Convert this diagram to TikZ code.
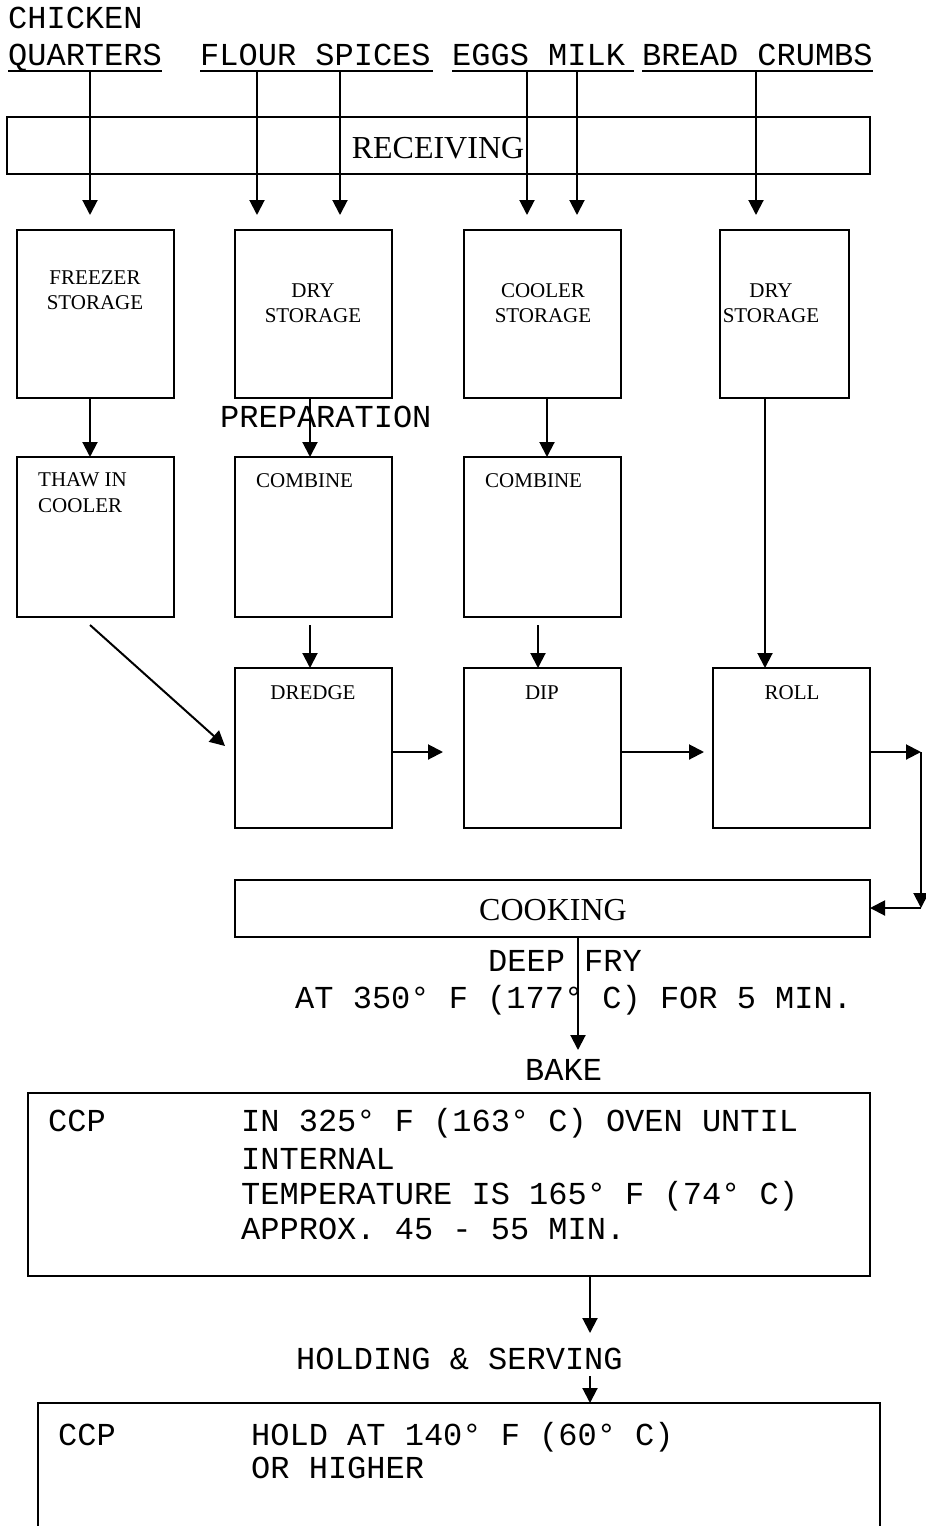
\documentclass[tikz,border=0pt]{standalone}
\usepackage{fontspec}
\setmainfont{Liberation Serif}
\setmonofont{Liberation Mono}
\usetikzlibrary{arrows.meta,calc}
\begin{document}
\begin{tikzpicture}[x=1pt,y=-1pt,
  box/.style={draw,line width=1.6pt,inner sep=0pt,outer sep=0pt,anchor=north west},
  mono/.style={font=\ttfamily\fontsize{32}{36}\selectfont,inner sep=0pt},
  small/.style={font=\fontsize{21}{25}\selectfont,inner sep=0pt},
  big/.style={font=\fontsize{32}{36}\selectfont,inner sep=0pt},
  arr/.style={line width=2pt,-{Triangle[length=15pt,width=15pt]}},
  ul/.style={line width=1.6pt}]
\useasboundingbox[fill=white] (0,0) rectangle (926,1526);

% ---- ingredients ----
\node[mono,anchor=base west] (chk) at (8,28) {CHICKEN};
\node[mono,anchor=base west] (qrt) at (8,65) {QUARTERS};
\node[mono,anchor=base west] (flr) at (200,65) {FLOUR SPICES};
\node[mono,anchor=base west] (egg) at (452,65) {EGGS MILK};
\node[mono,anchor=base west] (brd) at (642,65) {BREAD CRUMBS};
\draw[ul] ([yshift=-6pt]qrt.base west) -- ([yshift=-6pt]qrt.base east);
\draw[ul] ([yshift=-6pt]flr.base west) -- ([yshift=-6pt,xshift=2pt]flr.base east);
\draw[ul] ([yshift=-6pt]egg.base west) -- ([yshift=-6pt,xshift=9pt]egg.base east);
\draw[ul] ([yshift=-6pt]brd.base west) -- ([yshift=-6pt]brd.base east);

% ---- receiving ----
\node[box,minimum width=863pt,minimum height=57pt] (rcv) at (7,117) {};
\node[big,anchor=base] (rcvt) at (438,158) {RECEIVING};

% ---- storage row ----
\node[box,minimum width=157pt,minimum height=168pt] (fz) at (17,230) {};
\node[box,minimum width=157pt,minimum height=168pt] (dry1) at (235,230) {};
\node[box,minimum width=157pt,minimum height=168pt] (cool) at (464,230) {};
\node[box,minimum width=129pt,minimum height=168pt] (dry2) at (720,230) {};
\node[small,anchor=base] (fzt1) at (95,284) {FREEZER};
\node[small,anchor=base] (fzt2) at (95,309) {STORAGE};
\node[small,anchor=base] (d1t1) at (313,297) {DRY};
\node[small,anchor=base] (d1t2) at (313,322) {STORAGE};
\node[small,anchor=base] (clt1) at (543,297) {COOLER};
\node[small,anchor=base] (clt2) at (543,322) {STORAGE};
\node[small,anchor=base] (d2t1) at (771,297) {DRY};
\node[small,anchor=base] (d2t2) at (771,322) {STORAGE};

% ---- arrows from ingredients ----
\coordinate (s1) at (90,71);  \coordinate (e1) at (90,215);
\coordinate (s2) at (257,71); \coordinate (e2) at (257,215);
\coordinate (s3) at (340,71); \coordinate (e3) at (340,215);
\coordinate (s4) at (527,71); \coordinate (e4) at (527,215);
\coordinate (s5) at (577,71); \coordinate (e5) at (577,215);
\coordinate (s6) at (756,71); \coordinate (e6) at (756,215);
\foreach \i in {1,...,6} {\draw[arr] (s\i) -- (e\i);}

% ---- preparation row ----
\node[mono,anchor=base west] (prep) at (220,427) {PREPARATION};
\node[box,minimum width=157pt,minimum height=160pt] (thaw) at (17,457) {};
\node[box,minimum width=157pt,minimum height=160pt] (cmb1) at (235,457) {};
\node[box,minimum width=157pt,minimum height=160pt] (cmb2) at (464,457) {};
\node[small,anchor=base west] (tht1) at (38,486) {THAW IN};
\node[small,anchor=base west] (tht2) at (38,512) {COOLER};
\node[small,anchor=base west] (c1t) at (256,487) {COMBINE};
\node[small,anchor=base west] (c2t) at (485,487) {COMBINE};

\draw[arr] ($(fz.south west)+(73,0)$) -- ($(thaw.north west)+(73,0)$);
\draw[arr] ($(dry1.south west)+(75,0)$) -- ($(cmb1.north west)+(75,0)$);
\draw[arr] ($(cool.south west)+(83,0)$) -- ($(cmb2.north west)+(83,0)$);

% ---- third row ----
\node[box,minimum width=157pt,minimum height=160pt] (drg) at (235,668) {};
\node[box,minimum width=157pt,minimum height=160pt] (dip) at (464,668) {};
\node[box,minimum width=157pt,minimum height=160pt] (roll) at (713,668) {};
\node[small,anchor=base] (drgt) at (313,699) {DREDGE};
\node[small,anchor=base] (dipt) at (542,699) {DIP};
\node[small,anchor=base] (rollt) at (792,699) {ROLL};

\draw[arr] ($(thaw.south west)+(73,8)$) -- ($(drg.west)+(-10,-2)$);
\draw[arr] ($(cmb1.south west)+(75,8)$) -- ($(drg.north west)+(75,0)$);
\draw[arr] ($(cmb2.south west)+(74,8)$) -- ($(dip.north west)+(74,0)$);
\draw[arr] ($(dry2.south west)+(45,0)$) -- ($(roll.north west)+(52,0)$);
\draw[arr] ($(drg.east)+(0,4)$) -- ($(dip.west)+(-21,4)$);
\draw[arr] ($(dip.east)+(0,4)$) -- ($(roll.west)+(-9,4)$);

% ---- cooking ----
\node[box,minimum width=635pt,minimum height=57pt] (cook) at (235,880) {};
\node[big,anchor=base] (cookt) at (553,920) {COOKING};
\coordinate (rc1) at (921,752);
\coordinate (rc2) at (921,908);
\draw[arr] ($(roll.east)+(0,4)$) -- (rc1);
\draw[arr] (rc1) -- (rc2);
\draw[arr] (rc2) -- (rc2 -| cook.east);

\node[mono,anchor=base west] (deep) at (488,971) {DEEP FRY};
\node[mono,anchor=base west] (at350) at (295,1008) {AT 350° F (177° C) FOR 5 MIN.};
\node[mono,anchor=base west] (bake) at (525,1080) {BAKE};

% ---- CCP bake box ----
\node[box,minimum width=842pt,minimum height=183pt] (ccp1) at (28,1093) {};
\draw[arr] ($(cook.south west)+(343,0)$) -- ($(ccp1.north west)+(550,-43)$);
\node[mono,anchor=base west] (ccpa) at (48,1131) {CCP};
\node[mono,anchor=base west] (b1) at (241,1131) {IN 325° F (163° C) OVEN UNTIL};
\node[mono,anchor=base west] (b2) at (241,1169) {INTERNAL};
\node[mono,anchor=base west] (b3) at (241,1204) {TEMPERATURE IS 165° F (74° C)};
\node[mono,anchor=base west] (b4) at (241,1239) {APPROX. 45 - 55 MIN.};

% ---- holding ----
\node[mono,anchor=base west] (hold) at (296,1369) {HOLDING \& SERVING};
\coordinate (h1) at (590,1333);
\coordinate (h2) at (590,1376);
\coordinate (h3) at (590,1403);
\draw[arr] ($(ccp1.south west)+(562,0)$) -- (h1);
\draw[arr] (h2) -- (h3);

\coordinate (bl) at (38,1540);
\coordinate (tl) at (38,1403);
\coordinate (tr) at (880,1403);
\coordinate (br) at (880,1540);
\draw[line width=1.6pt] (bl) -- (tl) -- (tr) -- (br);
\node[mono,anchor=base west] (ccpb) at (58,1445) {CCP};
\node[mono,anchor=base west] (c1) at (251,1445) {HOLD AT 140° F (60° C)};
\node[mono,anchor=base west] (c2) at (251,1478) {OR HIGHER};
\end{tikzpicture}
\end{document}
